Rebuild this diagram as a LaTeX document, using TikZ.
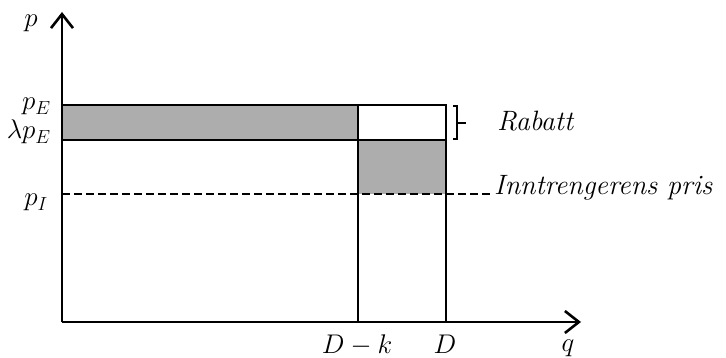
\RequirePackage{fix-cm}
\documentclass[tikz,border=0pt]{standalone}
\usetikzlibrary{arrows.meta}
\definecolor{graybox}{HTML}{ADADAD}
\tikzset{
  ax/.style={line width=2.6pt,-{Straight Barb[length=14pt,width=22pt,line width=2.6pt]}},
  edge/.style={line width=1.8pt},
  mlbl/.style={inner sep=0pt,font=\fontsize{27}{31}\selectfont},
  tlbl/.style={inner sep=0pt,font=\fontsize{28}{32}\selectfont\itshape,anchor=base west},
}
\begin{document}
\begin{tikzpicture}[x=1pt,y=-1pt]
\useasboundingbox (0,0) rectangle (726,358);
\coordinate (O) at (62,322);
\coordinate (ytop) at (62,12);
\coordinate (xend) at (581,322);
\coordinate (a) at (62,105);
\coordinate (b) at (358,140);
\coordinate (c) at (446,105);
\coordinate (d) at (446,194);
\coordinate (e) at (358,105);
\coordinate (f) at (446,140);
\coordinate (g) at (62,140);
\coordinate (h) at (62,194);
\coordinate (dk) at (358,322);
\coordinate (dd) at (446,322);
\coordinate (dashend) at (492,194);
\coordinate (br1) at (453,106);
\coordinate (br2) at (457,106);
\coordinate (br3) at (457,139);
\coordinate (br4) at (453,139);
\coordinate (brm) at (457,123);
\coordinate (brt) at (466,123);
% fills
\fill[graybox] (a) rectangle (b);
\fill[graybox] (b) rectangle (d);
% rectangles
\draw[edge] (a) -- (c) -- (f) -- (g);
\draw[edge] (e) -- (dk);
\draw[edge] (c) -- (dd);
\draw[edge,dash pattern=on 8pt off 4pt] (h) -- (dashend);
% axes
\draw[ax] (O) -- (ytop);
\draw[ax] (O) -- (xend);
% bracket
\draw[line width=1.5pt] (br1) -- (br2) -- (br3) -- (br4);
\draw[line width=1.5pt] (brm) -- (brt);
% labels
\node[mlbl,anchor=base] (lp) at (31,27) {$p$};
\node[mlbl,anchor=base east] (lpE) at (51,110) {$p_{E}$};
\node[mlbl,anchor=base east] (llpE) at (51,139) {$\lambda p_{E}$};
\node[mlbl,anchor=base east] (lpI) at (48,206) {$p_{I}$};
\node[mlbl,anchor=base] (lDk) at (357,353) {$D-k$};
\node[mlbl,anchor=base] (lD) at (445,353) {$D$};
\node[mlbl,anchor=base] (lq) at (568,352) {$q$};
\node[tlbl] (lrab) at (497,131) {Rabatt};
\node[tlbl] (lpris) at (494,195) {Inntrengerens pris};
\end{tikzpicture}
\end{document}
